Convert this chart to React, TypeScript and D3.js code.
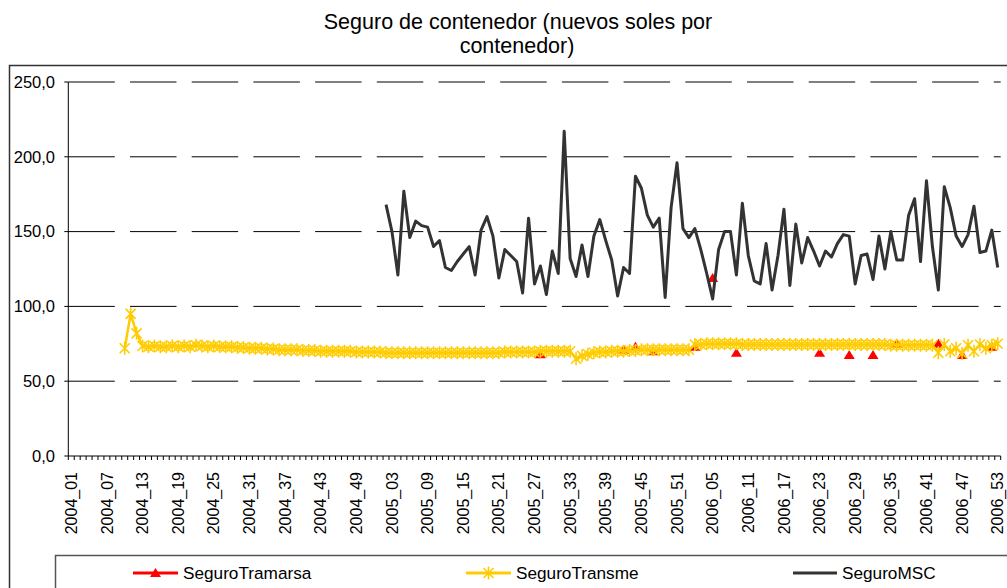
import React from 'react';
import * as d3 from 'd3';

// week categories 2004_01 .. 2006_53
const years = [2004, 2005, 2006];
const weeksPerYear = [52, 52, 53];
const categories: string[] = years.flatMap((y, k) =>
  d3.range(1, weeksPerYear[k] + 1).map((w) => `${y}_${String(w).padStart(2, '0')}`)
);

const yTicks = [0, 50, 100, 150, 200, 250];

// SeguroTransme, starting at 2004_10
const transmeStart = '2004_10';
const transmeValues = [
  72, 95, 82,
  73.5, 73, 73.5, 73, 73, 73.5, 73, 73.5, 73, 74,
  73.5, 73, 73.5, 73, 73, 73, 72.5, 72.5, 72, 72,
  72, 71.5, 71.5, 71, 71, 71, 71, 70.5, 70.5, 70.5,
  70, 70, 70, 70, 70, 70, 69.5, 69.5, 69.5, 69.5,
  // 2005
  69.5, 69, 69, 69, 69, 69, 69, 69, 69, 69,
  69, 69, 69, 69, 69, 69, 69, 69, 69, 69,
  69, 69.5, 69.5, 69.5, 69.5, 69.5, 69.5, 70, 70, 70,
  70, 70, 70, 65, 67, 68, 69, 69.5, 69.5, 70,
  70, 70, 70.5, 70.5, 71, 71, 71, 71, 71, 71,
  71, 71,
  // 2006
  71, 74.5, 74.5, 75, 75, 75, 75, 75, 75, 74.5,
  74.5, 74.5, 74.5, 74.5, 74.5, 74.5, 74.5, 74.5, 74.5, 74.5,
  74.5, 74.5, 74.5, 74.5, 74.5, 74.5, 74.5, 74.5, 74.5, 74.5,
  74.5, 74.5, 74.5, 74.5, 74, 74, 74, 74, 74, 74,
  74, 74, 69, 74.5, 70, 72, 68.5, 74, 70, 74.5,
  72, 74, 75,
];

// SeguroMSC, starting at 2005_02
const mscStart = '2005_02';
const mscValues = [
  168, 150, 121, 177, 146, 157, 154, 153, 140, 144,
  126, 124, 130, 135, 140, 121, 151, 160, 147, 119,
  138, 134, 130, 109, 159, 115, 127, 108, 137, 122,
  217, 132, 120, 141, 120, 147, 158, 144, 131, 107,
  126, 122, 187, 179, 161, 153, 159, 106, 166, 196,
  152, 146, 152, 138, 122, 105, 138, 150, 150, 121,
  169, 134, 117, 115, 142, 111, 134, 165, 114, 155,
  129, 146, 137, 127, 137, 133, 142, 148, 147, 115,
  134, 135, 118, 147, 125, 150, 131, 131, 161, 172,
  130, 184, 140, 111, 180, 166, 147, 140, 148, 167,
  136, 137, 151, 126,
];

// SeguroTramarsa, only the weeks where it shows
const tramarsaWeeks = ['2005_28', '2005_42', '2005_44', '2005_47', '2006_02', '2006_05', '2006_09',
  '2006_23', '2006_28', '2006_32', '2006_36', '2006_43', '2006_47', '2006_52'];
const tramarsaValues = [68, 71, 73, 70, 73, 119, 69, 69, 67.5, 67.5, 75, 75, 67.5, 73];

type Pt = { cat: string; v: number | null };

function fromStart(start: string, values: number[]): Pt[] {
  const s = categories.indexOf(start);
  return categories.map((c, i) => ({ cat: c, v: i >= s && i - s < values.length ? values[i - s] : null }));
}

const transme = fromStart(transmeStart, transmeValues);
const msc = fromStart(mscStart, mscValues);
const tramarsa: Pt[] = categories.map((c) => {
  const k = tramarsaWeeks.indexOf(c);
  return { cat: c, v: k >= 0 ? tramarsaValues[k] : null };
});

const RED = '#FF0000';
const YELLOW = '#FFCC00';
const DARK = '#333333';
const FONT = '"Liberation Sans", Arial, sans-serif';

const triangle = 'M0,-5L5.5,4L-5.5,4Z';
const asterisk = 'M-5,-5L5,5M-5,5L5,-5M0,-6.5L0,6.5';

export default function App() {
  const width = 1007;
  const height = 588;
  const left = 68.3;
  const right = 1000.7;
  const top = 82;
  const bottom = 456;

  const x = d3.scaleBand<string>().domain(categories).range([left, right]).padding(0);
  const y = d3.scaleLinear().domain([0, 250]).range([bottom, top]);
  const cx = (c: string) => (x(c) as number) + x.bandwidth() / 2;

  const line = d3
    .line<Pt>()
    .defined((d) => d.v !== null)
    .x((d) => cx(d.cat))
    .y((d) => y(d.v as number));

  const labelCats = categories.filter((_, i) => i % 6 === 0);

  return (
    <svg width={width} height={height} style={{ position: 'absolute', left: 0, top: 0, background: '#fff' }}
      fontFamily={FONT}>
      <rect x={0} y={0} width={width} height={height} fill="#fff" />
      <text x={518} y={29} textAnchor="middle" fontSize={21.5}>Seguro de contenedor (nuevos soles por</text>
      <text x={517} y={53} textAnchor="middle" fontSize={21.5}>contenedor)</text>

      {/* chart frame */}
      <rect x={9.5} y={65.5} width={1020} height={600} fill="none" stroke="#333" strokeWidth={1.5} />

      {/* gridlines */}
      {yTicks.filter((t) => t > 0).map((t) => (
        <line key={t} x1={left} x2={right} y1={y(t)} y2={y(t)} stroke="#000" strokeWidth={1}
          strokeDasharray="46.5,15.2" />
      ))}

      {/* axes */}
      <line x1={left} x2={left} y1={top} y2={bottom} stroke="#000" />
      <line x1={left} x2={right} y1={bottom} y2={bottom} stroke="#000" />
      {yTicks.map((t) => (
        <g key={t}>
          <line x1={left - 4} x2={left} y1={y(t)} y2={y(t)} stroke="#000" />
          <text x={55} y={y(t)} dy="0.35em" textAnchor="end" fontSize={16.5}>
            {d3.format('.1f')(t).replace('.', ',')}
          </text>
        </g>
      ))}
      {categories.map((c) => (
        <line key={c} x1={x(c)} x2={x(c)} y1={bottom} y2={bottom + 4} stroke="#000" />
      ))}
      <line x1={right} x2={right} y1={bottom} y2={bottom + 4} stroke="#000" />
      {labelCats.map((c) => (
        <text key={c} transform={`translate(${cx(c)},${bottom + 16}) rotate(-90)`} dy="0.35em"
          textAnchor="end" fontSize={16}>
          {c}
        </text>
      ))}

      {/* series */}
      <path d={line(tramarsa) || ''} fill="none" stroke={RED} strokeWidth={2.5} />
      {tramarsa.filter((d) => d.v !== null).map((d) => (
        <path key={d.cat} d={triangle} transform={`translate(${cx(d.cat)},${y(d.v as number)})`} fill={RED} />
      ))}
      <path d={line(transme) || ''} fill="none" stroke={YELLOW} strokeWidth={2.5} />
      {transme.filter((d) => d.v !== null).map((d) => (
        <path key={d.cat} d={asterisk} transform={`translate(${cx(d.cat)},${y(d.v as number)})`}
          fill="none" stroke={YELLOW} strokeWidth={1.6} />
      ))}
      <path d={line(msc) || ''} fill="none" stroke={DARK} strokeWidth={3} strokeLinejoin="round" />

      {/* legend */}
      <rect x={55.5} y={555.5} width={1000} height={60} fill="#fff" stroke="#555" strokeWidth={1.5} />
      <line x1={133} x2={178} y1={573} y2={573} stroke={RED} strokeWidth={3} />
      <path d={triangle} transform="translate(155.5,573)" fill={RED} />
      <text x={183} y={573} dy="0.35em" fontSize={17.2}>SeguroTramarsa</text>
      <line x1={466} x2={511} y1={573} y2={573} stroke={YELLOW} strokeWidth={3} />
      <path d={asterisk} transform="translate(488.5,573)" fill="none" stroke={YELLOW} strokeWidth={1.6} />
      <text x={516} y={573} dy="0.35em" fontSize={17.2}>SeguroTransme</text>
      <line x1={793} x2={837} y1={573} y2={573} stroke={DARK} strokeWidth={3} />
      <text x={842} y={573} dy="0.35em" fontSize={17.2}>SeguroMSC</text>
    </svg>
  );
}
